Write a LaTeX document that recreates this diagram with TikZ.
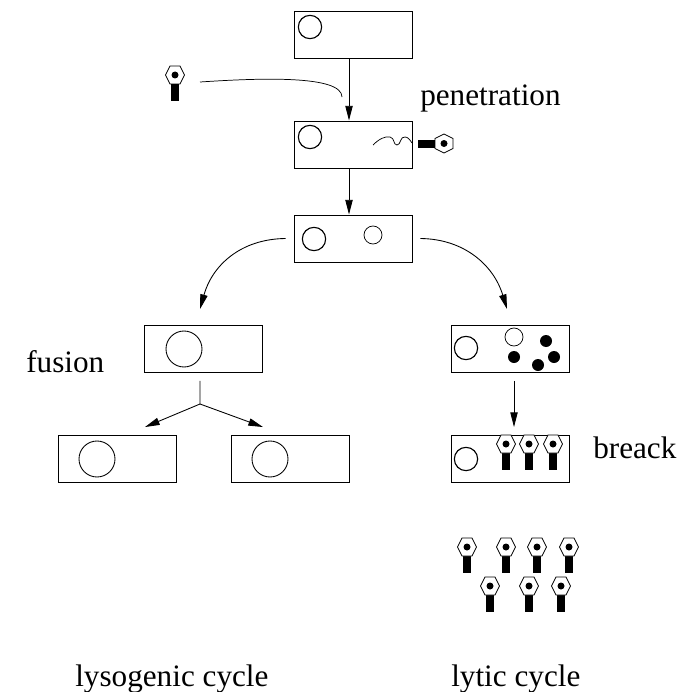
\documentclass[tikz,border=0pt]{standalone}
\usepackage{fontspec}
\setmainfont{Liberation Serif}
\usetikzlibrary{arrows.meta}
\tikzset{
  cell/.style={draw, line width=0.7pt, minimum width=88.5pt, minimum height=35.25pt, inner sep=0pt},
  nucleus/.style={draw, circle, line width=0.85pt, minimum size=17.5pt, inner sep=0pt},
  bignucleus/.style={draw, circle, line width=0.65pt, minimum size=27pt, inner sep=0pt},
  plasmid/.style={draw, circle, line width=0.55pt, minimum size=13.5pt, inner sep=0pt},
  virion/.style={fill, circle, minimum size=9pt, inner sep=0pt},
  arr/.style={line width=0.65pt, -{Stealth[length=11pt, width=5.5pt, inset=0pt]}},
  lab/.style={anchor=base west, inner sep=0pt, font=\fontsize{23.4}{27}\selectfont},
  phage/.pic={
    \fill (-4,8) rectangle (4,26);
    \filldraw[fill=white, line width=0.6pt] (-9.5,0) -- (-5,-9) -- (5,-9) -- (9.5,0) -- (5,9) -- (-5,9) -- cycle;
    \fill (0,0) circle (3.5);
  }
}
\begin{document}
\begin{tikzpicture}[x=0.75pt, y=-0.75pt]
  \useasboundingbox (0,0) rectangle (689,692);

  % cells
  \node[cell] (top)    at (353,34.5)  {};
  \node[cell] (inject) at (353,144.5) {};
  \node[cell] (mid)    at (353,238.5) {};
  \node[cell] (fuse)   at (203.5,349) {};
  \node[cell] (lyso1)  at (117,459)   {};
  \node[cell] (lyso2)  at (290,459)   {};
  \node[cell] (lyt1)   at (510,349)   {};
  \node[cell] (lyt2)   at (510,459)   {};

  % nuclei
  \node[nucleus] (n1) at (310,27)  {};
  \node[nucleus] (n2) at (310,137) {};
  \node[nucleus] (n3) at (314,239) {};
  \node[nucleus] (n4) at (466,348) {};
  \node[nucleus] (n5) at (466,459) {};
  \node[bignucleus] (b1) at (184,349) {};
  \node[bignucleus] (b2) at (97,459)  {};
  \node[bignucleus] (b3) at (270,459) {};
  \node[plasmid] (p1) at (373,235) {};
  \node[plasmid] (p2) at (514,337) {};

  \node[virion] (v1) at (546,341) {};
  \node[virion] (v2) at (514,357) {};
  \node[virion] (v3) at (554,357) {};
  \node[virion] (v4) at (538,365) {};

  % phages
  \pic (lone) at (175,75) {phage};
  \pic[rotate=-90] (stuck) at (444,143.5) {phage};
  \foreach \x in {506,529,553}
    \pic at (\x,444) {phage};
  \foreach \x in {467,506,537,569}
    \pic at (\x,547) {phage};
  \foreach \x in {490,529,561}
    \pic at (\x,586) {phage};

  % injected strand
  \coordinate (a0) at (200,82);
  \coordinate (a1) at (342,97);
  \draw[line width=0.55pt] (a0) .. controls (260,78) and (342,75) .. (a1);
  \coordinate (w0) at (373,145);
  \coordinate (w1) at (412,143);
  \draw[line width=0.55pt] (w0) .. controls (379,139) and (385,136) .. (390,137)
    .. controls (395,138) and (393,145) .. (397,145)
    .. controls (401,145) and (400,136) .. (405,137)
    .. controls (408,137) and (410,140) .. (w1);

  % arrows
  \draw[arr] ([xshift=-3pt]top.south) -- ([xshift=-3pt]inject.north);
  \draw[arr] ([xshift=-3pt]inject.south) -- ([xshift=-3pt]mid.north);
  \draw[arr] ([xshift=-6pt]mid.west) .. controls (240,239) and (212,266) .. ([xshift=-2.6pt,yshift=12pt]fuse.north);
  \draw[arr] ([xshift=6pt]mid.east) .. controls (465,239) and (494,266) .. ([xshift=-2.25pt,yshift=12pt]lyt1.north);
  \draw[arr] ([xshift=3pt,yshift=-6pt]lyt1.south) -- ([xshift=3pt,yshift=6pt]lyt2.north);

  \coordinate (fork) at (200,404);
  \draw[line width=0.65pt] ([xshift=-2.6pt,yshift=-6pt]fuse.south) -- (fork);
  \draw[arr] (fork) -- ([xshift=21pt,yshift=6pt]lyso1.north);
  \draw[arr] (fork) -- ([xshift=-20.25pt,yshift=6pt]lyso2.north);

  % labels
  \node[lab] (pen) at (420,105) {penetration};
  \node[lab] (fus) at (26,372.5)  {fusion};
  \node[lab] (bre) at (593,458) {breack};
  \node[lab] (lys) at (75,686) {lysogenic cycle};
  \node[lab] (lyc) at (451,686) {lytic cycle};
\end{tikzpicture}
\end{document}
